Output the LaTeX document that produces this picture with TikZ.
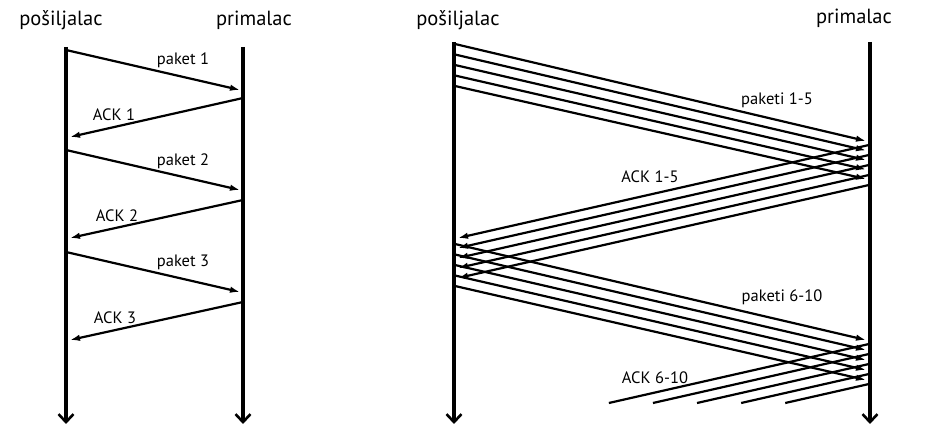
\documentclass[tikz,border=0pt]{standalone}
\usepackage{fontspec}
\setmainfont{PT Sans}
\usetikzlibrary{arrows.meta}
\tikzset{
  timeline/.style={line width=3.2pt,-{Straight Barb[length=8pt,width=15pt,line width=2.6pt]}},
  msg/.style={line width=2.2pt,-{Latex[length=10pt,width=6.5pt]}},
  cutmsg/.style={line width=2.2pt},
  hdr/.style={font=\fontsize{20.5}{24}\selectfont,inner sep=0pt},
  lbl/.style={font=\fontsize{16.5}{19}\selectfont,inner sep=0pt}
}
\begin{document}
\begin{tikzpicture}[x=1pt,y=-1pt]
\useasboundingbox (0,0) rectangle (927,427);
% ---------- left diagram ----------
\node[hdr] (hsL) at (61,20) {pošiljalac};
\node[hdr] (hrL) at (254,20) {primalac};
\coordinate (sLt) at (66,47);
\coordinate (sLb) at (66,424);
\coordinate (rLt) at (243,47);
\coordinate (rLb) at (243,424);
\draw[timeline] (sLt) -- (sLb);
\draw[timeline] (rLt) -- (rLb);
\coordinate (p1s) at (66,50);   \coordinate (p1e) at (240,90);
\coordinate (a1s) at (243,98);  \coordinate (a1e) at (70,137);
\coordinate (p2s) at (66,150);  \coordinate (p2e) at (240,190);
\coordinate (a2s) at (243,200); \coordinate (a2e) at (70,238);
\coordinate (p3s) at (66,252);  \coordinate (p3e) at (240,292);
\coordinate (a3s) at (243,302); \coordinate (a3e) at (70,340);
\draw[msg] (p1s) -- (p1e);
\draw[msg] (a1s) -- (a1e);
\draw[msg] (p2s) -- (p2e);
\draw[msg] (a2s) -- (a2e);
\draw[msg] (p3s) -- (p3e);
\draw[msg] (a3s) -- (a3e);
\node[lbl] (lp1) at (183,60) {paket 1};
\node[lbl] (la1) at (114,115) {ACK 1};
\node[lbl] (lp2) at (183,161) {paket 2};
\node[lbl] (la2) at (117,216) {ACK 2};
\node[lbl] (lp3) at (183,262) {paket 3};
\node[lbl] (la3) at (115,318) {ACK 3};
% ---------- right diagram ----------
\node[hdr] (hsR) at (458,20) {pošiljalac};
\node[hdr] (hrR) at (854,18) {primalac};
\coordinate (sRt) at (454,42);
\coordinate (sRb) at (454,424);
\coordinate (rRt) at (870,42);
\coordinate (rRb) at (870,424);
\draw[timeline] (sRt) -- (sRb);
\draw[timeline] (rRt) -- (rRb);
\foreach \i in {0,...,4}{
  \coordinate (P\i s) at (455,{44+10.5*\i});
  \coordinate (P\i e) at (866,{141+9.5*\i});
  \coordinate (A\i s) at (869,{145+10*\i});
  \coordinate (A\i e) at (458,{238+10*\i});
  \coordinate (Q\i s) at (455,{244+10.5*\i});
  \coordinate (Q\i e) at (866,{340+10*\i});
  \coordinate (B\i s) at (869,{344+10*\i});
  \coordinate (B\i e) at ({869-(59-10*\i)/0.2268},403);
  \draw[msg] (P\i s) -- (P\i e);
  \draw[msg] (A\i s) -- (A\i e);
  \draw[msg] (Q\i s) -- (Q\i e);
  \draw[cutmsg] (B\i s) -- (B\i e);
}
\node[lbl] (lP) at (777,100) {paketi 1-5};
\node[lbl] (lA) at (650,177) {ACK 1-5};
\node[lbl] (lQ) at (782,297) {paketi 6-10};
\node[lbl] (lB) at (655,378) {ACK 6-10};
\end{tikzpicture}
\end{document}
